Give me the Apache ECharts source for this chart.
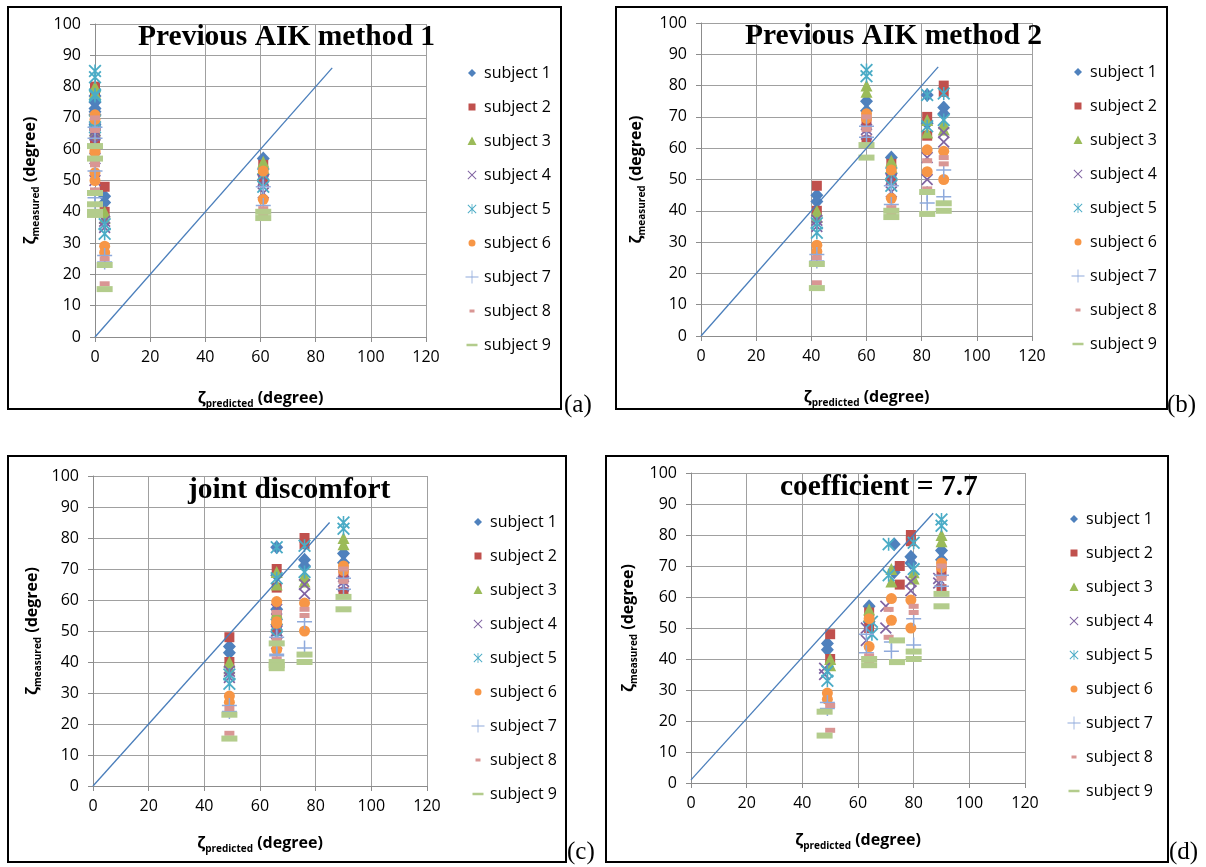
<!DOCTYPE html>
<html>
<head>
<meta charset="utf-8">
<script src="https://cdn.jsdelivr.net/npm/echarts@6/dist/echarts.min.js"></script>
<style>
  html, body { margin: 0; padding: 0; background: #fff; }
  #main { width: 1206px; height: 867px; }
</style>
</head>
<body>
<div id="main"></div>
<script>
// ---- data ----
const subjects = ['subject 1', 'subject 2', 'subject 3', 'subject 4', 'subject 5',
                  'subject 6', 'subject 7', 'subject 8', 'subject 9'];
const xTicks = [0, 20, 40, 60, 80, 100, 120];
const yTicks = [0, 10, 20, 30, 40, 50, 60, 70, 80, 90, 100];

// measured zeta (degree) per subject: 5 task conditions, 2 trials each
const meas1 = [[45, 43], [57, 52], [75, 72], [77, 68], [73, 71]];
const meas2 = [[48, 40], [50, 55], [68, 62.5], [70, 64], [80, 78]];
const meas3 = [[40, 38], [56, 54], [80, 78], [69, 65], [68, 66]];
const meas4 = [[37, 35], [50, 46], [66, 64.5], [57, 50], [65, 62]];
const meas5 = [[33, 36], [52, 48], [85, 83], [77, 67], [77.5, 69]];
const meas6 = [[29, 27], [53, 44], [71, 69.5], [59.5, 52.5], [59, 50]];
const meas7 = [[26, 24], [48, 42], [67, 63.5], [45.5, 42.5], [53, 44.5]];
const meas8 = [[17, 25], [41, 39], [70, 66], [47, 56], [55, 57]];
const meas9 = [[15.3, 23], [40, 38], [61, 57], [46, 39], [42.4, 40]];

// predicted zeta (degree) per condition, panels (a)-(c)
const predA = [3.5, 61, 0, 0, 0];
const predB = [42, 69, 60, 82, 88];
const predC = [49, 66, 90, 66, 76];
// panel (d): predicted zeta per subject and condition
const predD1 = [49, 64, 90, 73, 79];
const predD2 = [50, 64, 90, 75, 79];
const predD3 = [50, 64, 90, 72, 80];
const predD4 = [48, 63, 89, 70, 79];
const predD5 = [49, 65, 90, 71, 80];
const predD6 = [49, 64, 90, 72, 79];
const predD7 = [49, 63, 90, 72, 80];
const predD8 = [50, 64, 90, 71, 80];
const predD9 = [48, 64, 90, 74, 80];

// y = x reference line ends
const diagStart = [0, 0, 0, 1];
const diagEnd = [86, 86, 85, 87];

const titles = ['Previous AIK method 1', 'Previous AIK method 2', 'joint discomfort', 'coefficient = 7.7'];
const panelLabels = ['(a)', '(b)', '(c)', '(d)'];

// ---- layout / style ----
const FONT = 'Open Sans';
const grids = [
  { left: 95, top: 24, width: 331, height: 313 },
  { left: 701, top: 23, width: 331, height: 313 },
  { left: 93, top: 476, width: 334, height: 310 },
  { left: 691, top: 473, width: 334, height: 310 }
];
const frames = [[8, 7, 553, 402], [616, 7, 551, 402], [8, 456, 558, 406], [606, 456, 562, 406]];
const labelPos = [[564, 393], [1167, 393], [567, 840], [1169, 840]];
const titlePos = [[138, 22], [745, 21], [188, 475], [780, 472]];
const legendPos = [[465, 65], [1071, 64], [471, 514], [1067, 511]];
const xNameGap = [50, 50, 46, 46];
const yNameGap = [54, 54, 50, 52];

const colors = ['#4F81BD', '#C0504D', '#9BBB59', '#8064A2', '#4BACC6',
                '#F79646', '#8FAADC', '#D99694', '#B3CC8C'];
const X_PATH = 'M0,1 L1,0 L10,9 L9,10 Z M9,0 L10,1 L1,10 L0,9 Z';
const symbols = [
  'diamond', 'rect', 'triangle',
  'path://' + X_PATH,
  'path://' + X_PATH + ' M4.4,0 h1.2 v10 h-1.2 Z',
  'circle',
  'path://M4.5,0 h1 v4.5 h4.5 v1 h-4.5 v4.5 h-1 v-4.5 h-4.5 v-1 h4.5 Z',
  'rect', 'rect'
];
const sizes = [[13, 14], 10, 12, 12, 13, 11, 15, [10, 5], [16, 6]];

// legend icons drawn in a 14x14 box (tiny corner specks fix the box)
const SPECK = ' M0,0 h0.02 v0.02 h-0.02 Z M13.98,13.98 h0.02 v0.02 h-0.02 Z';
const legendIcons = [
  'M7,3 L11,7 L7,11 L3,7 Z',
  'M3.5,3.5 h7 v7 h-7 Z',
  'M7,2.5 L11.5,11 L2.5,11 Z',
  'M2.5,3.2 L3.2,2.5 L11.5,10.8 L10.8,11.5 Z M10.8,2.5 L11.5,3.2 L3.2,11.5 L2.5,10.8 Z',
  'M2.5,3.2 L3.2,2.5 L11.5,10.8 L10.8,11.5 Z M10.8,2.5 L11.5,3.2 L3.2,11.5 L2.5,10.8 Z M6.6,2 h0.8 v10 h-0.8 Z',
  'M3.5,7 A3.5,3.5 0 1 1 10.5,7 A3.5,3.5 0 1 1 3.5,7 Z',
  'M6.6,0.5 h0.8 v6.1 h6.1 v0.8 h-6.1 v6.1 h-0.8 v-6.1 h-6.1 v-0.8 h6.1 Z',
  'M4.5,5.5 h5 v3 h-5 Z',
  'M1.5,5.8 h11 v2.4 h-11 Z'
].map(p => 'path://' + p + SPECK);

const measured = [meas1, meas2, meas3, meas4, meas5, meas6, meas7, meas8, meas9];
const predD = [predD1, predD2, predD3, predD4, predD5, predD6, predD7, predD8, predD9];

function predicted(p, s, c) {
  if (p === 0) return predA[c];
  if (p === 1) return predB[c];
  if (p === 2) return predC[c];
  return predD[s][c];
}

function points(p, s) {
  const pts = [];
  measured[s].forEach((trials, c) => {
    trials.forEach(v => pts.push([predicted(p, s, c), v]));
  });
  return pts;
}

const nameRich = {
  z: { fontFamily: FONT, fontSize: 16, fontWeight: 'bold', color: '#000', lineHeight: 22 },
  s: { fontFamily: FONT, fontSize: 10, fontWeight: 'bold', color: '#000', lineHeight: 12, verticalAlign: 'bottom' },
  d: { fontFamily: FONT, fontSize: 16, fontWeight: 'bold', color: '#000', lineHeight: 22 }
};

const gridColor = '#A0A0A0';

const xAxes = grids.map((g, i) => ({
  type: 'value', gridIndex: i,
  min: xTicks[0], max: xTicks[xTicks.length - 1], interval: xTicks[1] - xTicks[0],
  name: '{z|ζ}{s|predicted}{d| (degree)}', nameLocation: 'middle', nameGap: xNameGap[i],
  nameTextStyle: { rich: nameRich },
  axisLine: { show: true, onZero: false, lineStyle: { color: '#8C8C8C', width: 1 } },
  axisTick: { show: true, length: 5, lineStyle: { color: '#8C8C8C' } },
  axisLabel: { fontFamily: FONT, fontSize: 16, color: '#000', margin: 12 },
  splitLine: { show: true, lineStyle: { color: gridColor, width: 1 } }
}));

const yAxes = grids.map((g, i) => ({
  type: 'value', gridIndex: i,
  min: yTicks[0], max: yTicks[yTicks.length - 1], interval: yTicks[1] - yTicks[0],
  name: '{z|ζ}{s|measured}{d| (degree)}', nameLocation: 'middle', nameGap: yNameGap[i],
  nameRotate: 90,
  nameTextStyle: { rich: nameRich },
  axisLine: { show: true, onZero: false, lineStyle: { color: '#8C8C8C', width: 1 } },
  axisTick: { show: true, length: 5, lineStyle: { color: '#8C8C8C' } },
  axisLabel: { fontFamily: FONT, fontSize: 16, color: '#000', margin: 14 },
  splitLine: { show: true, lineStyle: { color: gridColor, width: 1 } }
}));

const series = [];
for (let p = 0; p < 4; p++) {
  for (let s = 0; s < 9; s++) {
    series.push({
      type: 'scatter', name: subjects[s], xAxisIndex: p, yAxisIndex: p,
      data: points(p, s),
      symbol: symbols[s], symbolSize: sizes[s],
      itemStyle: { color: colors[s], opacity: 1 },
      emphasis: { disabled: true },
      z: 2
    });
  }
  series.push({
    type: 'line', name: 'measured = predicted', xAxisIndex: p, yAxisIndex: p,
    data: [[0, diagStart[p]], [diagEnd[p], diagEnd[p]]],
    symbol: 'none', silent: true,
    lineStyle: { color: '#4A7EBB', width: 1.3 },
    z: 5
  });
}

const legends = legendPos.map(([l, t]) => ({
  orient: 'vertical', left: l, top: t, padding: 0,
  itemWidth: 14, itemHeight: 14, itemGap: 18,
  selectedMode: false,
  textStyle: { fontFamily: FONT, fontSize: 16, color: '#000', lineHeight: 14, height: 14 },
  data: subjects.map((n, s) => ({ name: n, icon: legendIcons[s] }))
}));

const graphics = [];
frames.forEach(([x, y, w, h]) => {
  graphics.push({
    type: 'rect', silent: true, z: 0,
    shape: { x: x, y: y, width: w, height: h },
    style: { fill: 'none', stroke: '#000', lineWidth: 2 }
  });
});
labelPos.forEach(([x, y], i) => {
  graphics.push({
    type: 'text', left: x, top: y, silent: true,
    style: { text: panelLabels[i], fontFamily: 'Liberation Serif', fontSize: 25, fill: '#000' }
  });
});

const chart = echarts.init(document.getElementById('main'), null, { renderer: 'canvas' });
chart.setOption({
  animation: false,
  backgroundColor: '#fff',
  title: titles.map((t, i) => ({
    text: t, left: titlePos[i][0], top: titlePos[i][1], padding: 0,
    textStyle: { fontFamily: 'Liberation Serif', fontWeight: 'bold', fontSize: 29.5, color: '#000' }
  })),
  grid: grids,
  xAxis: xAxes,
  yAxis: yAxes,
  legend: legends,
  series: series,
  graphic: graphics
});
</script>
</body>
</html>
